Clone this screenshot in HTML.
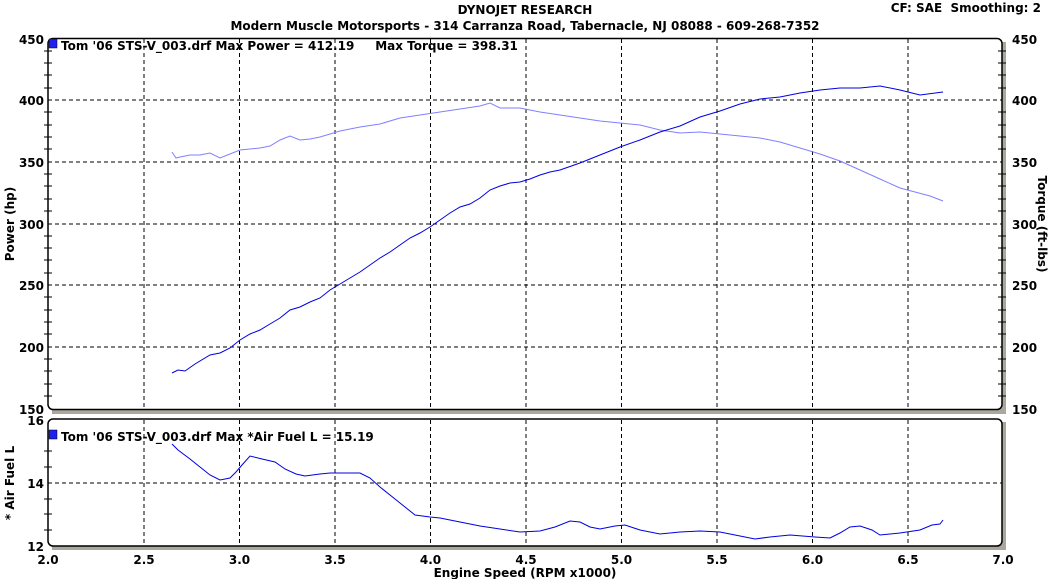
<!DOCTYPE html><html><head><style>body{margin:0;background:#fff}svg text{font-family:"DejaVu Sans","Liberation Sans",sans-serif;font-weight:bold;font-size:12px;fill:#000;white-space:pre}</style></head><body>
<svg width="1051" height="579" viewBox="0 0 1051 579" xmlns="http://www.w3.org/2000/svg">
<text x="525" y="14" text-anchor="middle">DYNOJET RESEARCH</text>
<text x="525" y="30" text-anchor="middle">Modern Muscle Motorsports - 314 Carranza Road, Tabernacle, NJ 08088 - 609-268-7352</text>
<text x="1041" y="12" text-anchor="end" xml:space="preserve">CF: SAE  Smoothing: 2</text>
<rect x="52" y="408" width="954" height="6" fill="#aaa89c"/>
<rect x="1002" y="42" width="4" height="370" fill="#aaa89c"/>
<rect x="52" y="544" width="954" height="6" fill="#aaa89c"/>
<rect x="1002" y="422" width="4" height="126" fill="#aaa89c"/>
<rect x="48" y="38.5" width="954" height="371" rx="5" fill="#fff" stroke="#000" stroke-width="1.5"/>
<rect x="48" y="419" width="954" height="127" rx="5" fill="#fff" stroke="#000" stroke-width="1.5"/>
<g stroke="#000" stroke-width="1">
<path d="M44 51H52M44 63H52M44 75H52M44 88H52M44 112H52M44 125H52M44 137H52M44 149H52M44 174H52M44 186H52M44 199H52M44 211H52M44 236H52M44 248H52M44 260H52M44 273H52M44 297H52M44 310H52M44 322H52M44 334H52M44 359H52M44 371H52M44 384H52M44 396H52"/>
<path d="M998 51H1006M998 63H1006M998 75H1006M998 88H1006M998 112H1006M998 125H1006M998 137H1006M998 149H1006M998 174H1006M998 186H1006M998 199H1006M998 211H1006M998 236H1006M998 248H1006M998 260H1006M998 273H1006M998 297H1006M998 310H1006M998 322H1006M998 334H1006M998 359H1006M998 371H1006M998 384H1006M998 396H1006"/>
<path d="M44 451H52M44 467H52M44 499H52M44 514H52M44 530H52"/>
</g>
<g stroke="#000" stroke-dasharray="4,3" stroke-width="1">
<path d="M144 39V409M239.5 39V409M335 39V409M430.5 39V409M526 39V409M621.5 39V409M717 39V409M812.5 39V409M908 39V409"/>
<path d="M48 100H1002M48 162H1002M48 224H1002M48 285H1002M48 347H1002"/>
<path d="M144 420V546M239.5 420V546M335 420V546M430.5 420V546M526 420V546M621.5 420V546M717 420V546M812.5 420V546M908 420V546"/>
<path d="M48 483H1002"/>
</g>
<g font-size="13">
<text x="44" y="44" text-anchor="end">450</text><text x="44" y="105" text-anchor="end">400</text><text x="44" y="167" text-anchor="end">350</text><text x="44" y="229" text-anchor="end">300</text><text x="44" y="290" text-anchor="end">250</text><text x="44" y="352" text-anchor="end">200</text><text x="44" y="414" text-anchor="end">150</text>
<text x="1012" y="44">450</text><text x="1012" y="105">400</text><text x="1012" y="167">350</text><text x="1012" y="229">300</text><text x="1012" y="290">250</text><text x="1012" y="352">200</text><text x="1012" y="414">150</text>
<text x="44" y="425" text-anchor="end">16</text><text x="44" y="488" text-anchor="end">14</text><text x="44" y="551" text-anchor="end">12</text>
<text x="48" y="564" text-anchor="middle">2.0</text><text x="144" y="564" text-anchor="middle">2.5</text><text x="239.5" y="564" text-anchor="middle">3.0</text><text x="335" y="564" text-anchor="middle">3.5</text><text x="430.5" y="564" text-anchor="middle">4.0</text><text x="526" y="564" text-anchor="middle">4.5</text><text x="621.5" y="564" text-anchor="middle">5.0</text><text x="717" y="564" text-anchor="middle">5.5</text><text x="812.5" y="564" text-anchor="middle">6.0</text><text x="908" y="564" text-anchor="middle">6.5</text><text x="1003" y="564" text-anchor="middle">7.0</text>
</g>
<text x="525" y="577" text-anchor="middle">Engine Speed (RPM x1000)</text>
<text transform="translate(14,224) rotate(-90)" text-anchor="middle">Power (hp)</text>
<text transform="translate(1038,224) rotate(90)" text-anchor="middle">Torque (ft-lbs)</text>
<text transform="translate(14,483) rotate(-90)" text-anchor="middle">* Air Fuel L</text>
<rect x="49" y="39" width="8" height="9" fill="#2020f0" stroke="#000" stroke-width="0.5"/>
<text x="61" y="50" xml:space="preserve">Tom '06 STS-V_003.drf Max Power = 412.19     Max Torque = 398.31</text>
<rect x="49" y="430" width="8" height="9" fill="#2020f0" stroke="#000" stroke-width="0.5"/>
<text x="61" y="441">Tom '06 STS-V_003.drf Max *Air Fuel L = 15.19</text>
<polyline fill="none" stroke="#8080ff" stroke-width="1" points="172,152 176,158 180,157 190,155 200,155 210,153 220,158 230,154 240,150 250,149 260,148 270,146 280,140 290,136 300,140 310,139 320,137 340,131 360,127 380,124 400,118 420,115 440,112 460,109 480,106 490,103 500,108 520,108 540,112 560,115 580,118 600,121 620,123 640,125 660,130 680,133 700,132 720,134 740,136 760,138 780,142 800,148 820,154 840,161 860,170 880,179 900,188 915,192 930,196 943,201"/>
<polyline fill="none" stroke="#0000e0" stroke-width="1" points="172,373 178,370 185,371 195,364 210,355 220,353 230,348 240,340 250,334 260,330 270,324 280,318 290,310 300,307 310,302 320,298 330,290 340,284 350,278 360,272 370,265 380,258 390,252 400,245 410,238 420,233 430,227 440,220 450,213 460,207 470,204 480,198 490,190 500,186 510,183 520,182 530,179 540,175 550,172 560,170 580,163 600,155 620,147 640,140 660,132 680,126 700,117 720,111 740,104 760,99 780,97 800,93 820,90 840,88 860,88 880,86 900,90 920,95 943,92"/>
<polyline fill="none" stroke="#0000e0" stroke-width="1" points="172,444 178,450 190,459 200,467 210,475 220,480 230,478 236,472 242,465 250,456 262,459 275,462 285,469 296,474 305,476 320,474 330,473 345,473 360,473 370,478 380,487 395,499 405,507 415,515 430,517 440,518 460,522 480,526 500,529 520,532 540,531 555,527 570,521 580,522 590,527 600,529 615,526 625,525 640,530 660,534 680,532 700,531 720,532 740,536 755,539 770,537 790,535 815,537 830,538 840,533 850,527 860,526 872,530 880,535 900,533 920,530 932,525 940,524 943,520"/>
</svg></body></html>
